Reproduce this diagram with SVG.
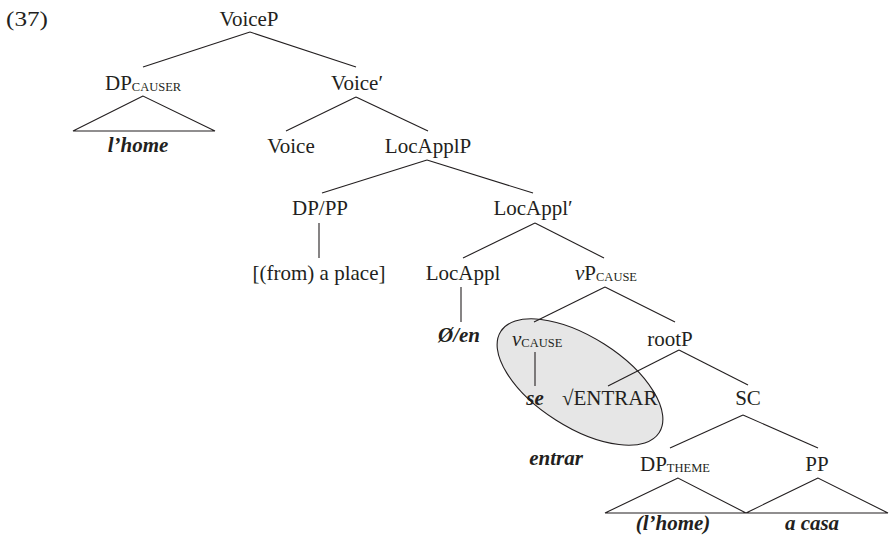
<svg xmlns="http://www.w3.org/2000/svg" width="890" height="541" viewBox="0 0 890 541">
  <style>
    text { font-family: "Liberation Serif", "Times New Roman", serif; font-size: 21px; fill: #231f20; }
    .c { text-anchor: middle; }
    .bi { font-weight: bold; font-style: italic; }
    .it { font-style: italic; }
    .sc { font-size: 12.5px; }
    .edge { stroke: #231f20; stroke-width: 1.1; fill: none; }
    .hl { fill: #e6e6e6; stroke: #231f20; stroke-width: 1.1; }
  </style>

  <!-- highlighted constituent: v + root -->
  <ellipse id="highlight" class="hl" cx="580" cy="382" rx="94" ry="45" transform="rotate(32.5 580 382)"/>

  <text id="ex-num" x="6" y="26" font-size="22" textLength="42" lengthAdjust="spacingAndGlyphs">(37)</text>

  <g id="connectors">
    <line class="edge" x1="250" y1="32" x2="143" y2="67"/>
    <line class="edge" x1="250" y1="32" x2="356" y2="67"/>
    <polygon class="edge" points="143,96 73,131 215,131"/>
    <line class="edge" x1="356" y1="97" x2="286" y2="131"/>
    <line class="edge" x1="356" y1="97" x2="428" y2="131"/>
    <line class="edge" x1="427" y1="160" x2="322" y2="193"/>
    <line class="edge" x1="427" y1="160" x2="533" y2="193"/>
    <line class="edge" x1="319" y1="223" x2="319" y2="258"/>
    <line class="edge" x1="535" y1="223" x2="463" y2="258"/>
    <line class="edge" x1="535" y1="223" x2="604" y2="258"/>
    <line class="edge" x1="461" y1="287" x2="461" y2="322"/>
    <line class="edge" x1="605" y1="287" x2="534" y2="322"/>
    <line class="edge" x1="605" y1="287" x2="675" y2="322"/>
    <line class="edge" x1="535" y1="352" x2="535" y2="386"/>
    <line class="edge" x1="679" y1="350" x2="608" y2="386"/>
    <line class="edge" x1="679" y1="350" x2="748" y2="385"/>
    <line class="edge" x1="743" y1="415" x2="670" y2="448"/>
    <line class="edge" x1="743" y1="415" x2="818" y2="448"/>
    <polygon class="edge" points="678,478 605,513 746,513"/>
    <polygon class="edge" points="818,478 746,513 888,513"/>
  </g>

  <g id="voiceP"><text class="c" x="249" y="26">VoiceP</text></g>
  <g id="dp-causer"><text x="105" y="90">DP<tspan class="sc" dy="1">CAUSER</tspan></text></g>
  <g id="voice-bar"><text class="c" x="357" y="90">Voice′</text></g>
  <g id="lhome"><text class="c bi" x="138" y="152">l’home</text></g>
  <g id="voice"><text class="c" x="291" y="153">Voice</text></g>
  <g id="locapplP"><text class="c" x="428" y="153">LocApplP</text></g>
  <g id="dp-pp"><text class="c" x="320" y="215">DP/PP</text></g>
  <g id="locappl-bar"><text class="c" x="533" y="215">LocAppl′</text></g>
  <g id="place"><text class="c" x="319" y="280">[(from) a place]</text></g>
  <g id="locappl"><text class="c" x="463" y="280">LocAppl</text></g>
  <g id="vP-cause"><text x="575" y="280"><tspan class="it">v</tspan>P<tspan class="sc" dy="1">CAUSE</tspan></text></g>
  <g id="zero-en"><text class="c bi" x="459" y="342">Ø/en</text></g>
  <g id="v-cause"><text x="512" y="346"><tspan class="it">v</tspan><tspan class="sc" dy="1">CAUSE</tspan></text></g>
  <g id="rootP"><text class="c" x="670" y="346">rootP</text></g>
  <g id="se"><text class="c bi" x="535" y="405">se</text></g>
  <g id="root-entrar"><text x="562" y="405">√ENTRAR</text></g>
  <g id="sc"><text class="c" x="748" y="405">SC</text></g>
  <g id="entrar"><text class="c bi" x="556" y="465">entrar</text></g>
  <g id="dp-theme"><text x="640" y="471">DP<tspan class="sc" dy="1">THEME</tspan></text></g>
  <g id="pp"><text class="c" x="817" y="471">PP</text></g>
  <g id="lhome-theme"><text class="c bi" x="673" y="530">(l’home)</text></g>
  <g id="a-casa"><text class="c bi" x="812" y="530">a casa</text></g>
</svg>
